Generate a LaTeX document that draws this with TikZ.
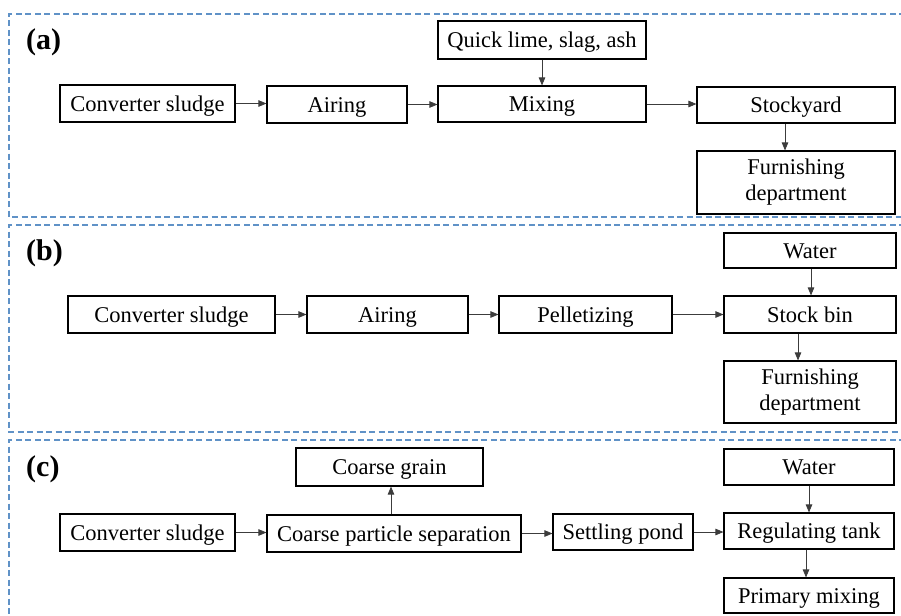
\documentclass[tikz,border=0pt]{standalone}
\usepackage{fontspec}
\setmainfont{Liberation Serif}
\usetikzlibrary{arrows.meta}
\definecolor{dashblue}{RGB}{96,146,199}
\definecolor{arrgray}{RGB}{60,60,60}
\tikzset{
  boxbase/.style={draw=black, line width=1.1pt, inner sep=0pt, align=center,
    font=\fontsize{22.5}{26}\selectfont},
  box/.style={boxbase, text height=20.7pt, text depth=5.6pt},
  box2/.style={boxbase},
  arr/.style={draw=arrgray, line width=0.8pt, -{Triangle[length=8pt,width=6.5pt]}},
  panel/.style={draw=dashblue, line width=1.2pt, dash pattern=on 6pt off 3.5pt},
  plabel/.style={font=\fontsize{30}{32}\selectfont\bfseries, anchor=west, inner sep=0pt}
}
\begin{document}
\begin{tikzpicture}[x=1pt,y=-1pt]
\useasboundingbox (0,0) rectangle (901,615);
\clip (0,0) rectangle (901,615);
% panels
\draw[panel] (905,14) -- (9,14) -- (9,217) -- (905,217);
\draw[panel] (905,225) -- (9,225) -- (9,432) -- (905,432);
\draw[panel] (905,440) -- (9,440) -- (9,640);
\node[plabel] (la) at (26,42) {(a)};
\node[plabel] (lb) at (26,253) {(b)};
\node[plabel] (lc) at (26,469) {(c)};
% (a)
\node[box, minimum width=175pt, minimum height=37pt] (a1) at (147.5,103.5) {Converter sludge};
\node[box, minimum width=140pt, minimum height=37pt] (a2) at (337,104.5) {Airing};
\node[box, minimum width=208pt, minimum height=36pt] (a3) at (542,104) {Mixing};
\node[box, minimum width=208pt, minimum height=38pt] (a4) at (542,40) {Quick lime, slag, ash};
\node[box, minimum width=198pt, minimum height=36pt] (a5) at (796,105) {Stockyard};
\node[box2, minimum width=198pt, minimum height=63pt] (a6) at (796,182.5) {Furnishing\\department};
\draw[arr] (a1.east) -- (a2.west |- a1.east);
\draw[arr] (a2.east) -- (a3.west |- a2.east);
\draw[arr] (a4.south) -- (a3.north);
\draw[arr] (a3.east) -- (a5.west |- a3.east);
\draw[arr] ([xshift=-11pt]a5.south) -- ([xshift=-11pt]a5.south |- a6.north);
% (b)
\node[box, minimum width=207pt, minimum height=37pt] (b1) at (171.5,314.5) {Converter sludge};
\node[box, minimum width=161pt, minimum height=37pt] (b2) at (387.5,314.5) {Airing};
\node[box, minimum width=173pt, minimum height=37pt] (b3) at (585.5,314.5) {Pelletizing};
\node[box, minimum width=172pt, minimum height=37pt] (b4) at (810,314.5) {Stock bin};
\node[box, minimum width=172pt, minimum height=35pt] (b5) at (810,250.5) {Water};
\node[box2, minimum width=172pt, minimum height=62pt] (b6) at (810,392) {Furnishing\\department};
\draw[arr] (b1.east) -- (b2.west |- b1.east);
\draw[arr] (b2.east) -- (b3.west |- b2.east);
\draw[arr] (b3.east) -- (b4.west |- b3.east);
\draw[arr] ([xshift=1pt]b5.south) -- ([xshift=1pt]b5.south |- b4.north);
\draw[arr] ([xshift=-12pt]b4.south) -- ([xshift=-12pt]b4.south |- b6.north);
% (c)
\node[box, minimum width=175pt, minimum height=37pt] (c1) at (147.5,532.5) {Converter sludge};
\node[box, minimum width=254pt, minimum height=37pt] (c2) at (394,533.5) {Coarse particle separation};
\node[box, minimum width=187pt, minimum height=38pt] (c3) at (389.5,467) {Coarse grain};
\node[box, minimum width=140pt, minimum height=36pt] (c4) at (623,532) {Settling pond};
\node[box, minimum width=170pt, minimum height=36pt] (c5) at (809,531) {Regulating tank};
\node[box, minimum width=170pt, minimum height=36pt] (c6) at (809,467) {Water};
\node[box, minimum width=170pt, minimum height=35pt] (c7) at (809,595.5) {Primary mixing};
\draw[arr] (c1.east) -- (c2.west |- c1.east);
\draw[arr] ([xshift=-3pt]c2.north) -- ([xshift=-3pt]c2.north |- c3.south);
\draw[arr] (c2.east) -- (c4.west |- c2.east);
\draw[arr] (c4.east) -- (c5.west |- c4.east);
\draw[arr] (c6.south) -- (c5.north);
\draw[arr] ([xshift=-3pt]c5.south) -- ([xshift=-3pt]c5.south |- c7.north);
\end{tikzpicture}
\end{document}
